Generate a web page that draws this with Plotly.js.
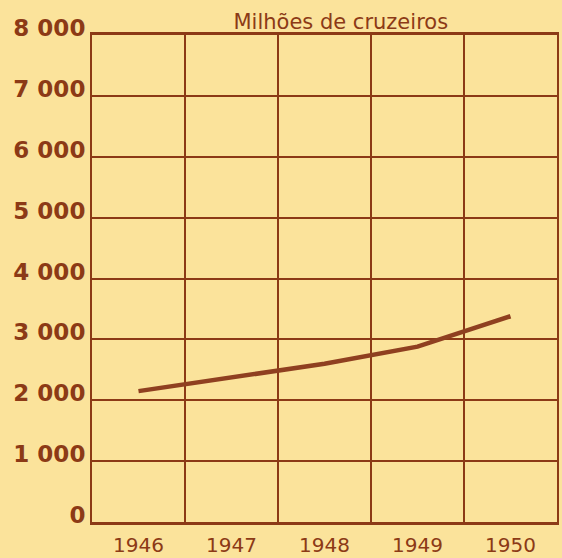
<!DOCTYPE html>
<html>
<head>
<meta charset="utf-8">
<script src="https://cdn.plot.ly/plotly-3.0.1.min.js"></script>
<style>
  html, body { margin: 0; padding: 0; background: #fbe39b; }
  #chart { width: 562px; height: 558px; }
</style>
</head>
<body>
<div id="chart"></div>
<script>
// Milhões de cruzeiros, 1946-1950
var years = ['1946', '1947', '1948', '1949', '1950'];
var values = [2150, 2370, 2600, 2880, 3380];

var yTicks = [0, 1000, 2000, 3000, 4000, 5000, 6000, 7000, 8000];
var yLabels = ['0', '1 000', '2 000', '3 000', '4 000', '5 000', '6 000', '7 000', '8 000'];

var ink = '#8c3a16';

var trace = {
    x: years,
    y: values,
    type: 'scatter',
    mode: 'lines',
    line: {color: '#8f4020', width: 4.5},
    hoverinfo: 'x+y'
};

var layout = {
    width: 562,
    height: 558,
    margin: {l: 92, r: 5, t: 35, b: 36},
    paper_bgcolor: '#fbe39b',
    plot_bgcolor: '#fbe39b',
    showlegend: false,
    title: {
        text: 'Milhões de cruzeiros',
        font: {family: 'DejaVu Sans', size: 21, color: ink},
        xref: 'paper', x: 0.535, xanchor: 'center',
        yref: 'container', y: 0.962, yanchor: 'middle'
    },
    xaxis: {
        type: 'category',
        range: [-0.5, 4.5],
        tickson: 'boundaries',
        showgrid: true,
        gridcolor: ink,
        gridwidth: 2,
        showline: true,
        linecolor: ink,
        linewidth: 3,
        mirror: true,
        ticks: '',
        ticklabelstandoff: 3,
        tickfont: {family: 'DejaVu Sans', size: 20, color: ink},
        fixedrange: true
    },
    yaxis: {
        range: [0, 8000],
        tickmode: 'array',
        tickvals: yTicks,
        ticktext: yLabels,
        showgrid: true,
        gridcolor: ink,
        gridwidth: 2,
        zeroline: false,
        showline: true,
        linecolor: ink,
        linewidth: 2,
        mirror: true,
        ticks: '',
        ticklabelshift: -7,
        ticklabelstandoff: 0,
        tickfont: {family: 'DejaVu Sans', size: 23, color: ink, weight: 'bold'},
        fixedrange: true
    }
};

Plotly.newPlot('chart', [trace], layout, {displayModeBar: false, staticPlot: true});
</script>
</body>
</html>
